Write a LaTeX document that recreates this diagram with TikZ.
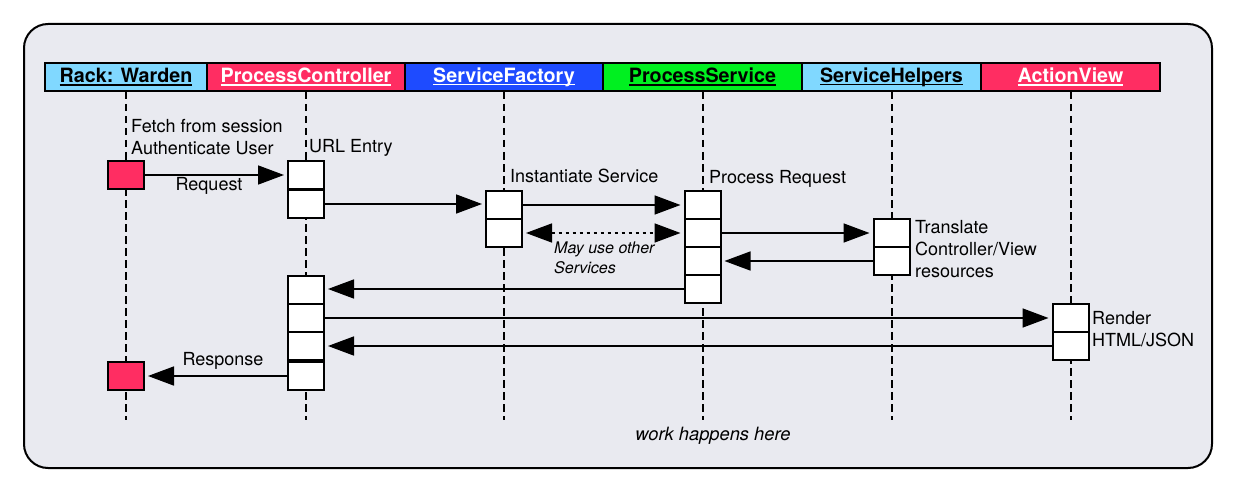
\documentclass[tikz,border=0pt]{standalone}
\usepackage{fontspec}
\setmainfont{TeX Gyre Heros}
\usetikzlibrary{arrows.meta}
\definecolor{bgc}{HTML}{E9EAF0}
\definecolor{lblue}{HTML}{80D8FF}
\definecolor{rred}{HTML}{FF2D62}
\definecolor{bblue}{HTML}{1E4BFF}
\definecolor{ggreen}{HTML}{00F020}
\newcommand\hdul[1]{\setbox0\hbox{#1}\rlap{\rule[-0.16em]{\wd0}{0.075em}}\box0}
\begin{document}
\begin{tikzpicture}[x=1pt,y=-1pt,
  hdr/.style={draw=black,line width=2pt,minimum height=28pt,inner sep=0pt,
    font=\fontsize{19.7}{22}\selectfont\bfseries},
  act/.style={draw=black,fill=white,line width=2pt,minimum width=36pt,minimum height=28pt,inner sep=0pt},
  life/.style={line width=2pt,dash pattern=on 7.5pt off 4.5pt},
  msg/.style={line width=1.6pt,-{Triangle[length=26pt,width=19pt]},shorten >=3pt},
  lbl/.style={font=\fontsize{18}{22}\selectfont,inner sep=0pt,align=left},
  ilbl/.style={font=\fontsize{16}{20}\selectfont\itshape,inner sep=0pt,align=left}]
\useasboundingbox (0,0) rectangle (1234,492);
\draw[fill=bgc,line width=2pt,rounded corners=24pt] (24,24) rectangle (1212,468);
% headers
\node[hdr,fill=lblue,minimum width=162pt] (hRack) at (126,77) {\hdul{Rack: Warden}};
\node[hdr,fill=rred,minimum width=198pt,text=white] (hPC) at (306,77) {\hdul{ProcessController}};
\node[hdr,fill=bblue,minimum width=198pt,text=white] (hSF) at (504,77) {\hdul{ServiceFactory}};
\node[hdr,fill=ggreen,minimum width=199pt] (hPS) at (702.5,77) {\hdul{ProcessService}};
\node[hdr,fill=lblue,minimum width=179pt] (hSH) at (891.5,77) {\hdul{ServiceHelpers}};
\node[hdr,fill=rred,minimum width=179pt,text=white] (hAV) at (1070.5,77) {\hdul{ActionView}};
% lifeline ends
\coordinate (eRack) at (126,420);
\coordinate (ePC) at (306,420);
\coordinate (eSF) at (504,420);
\coordinate (ePS) at (702.5,420);
\coordinate (eSH) at (891.5,420);
\coordinate (eAV) at (1070.5,420);
\draw[life] (hRack.south) -- (eRack);
\draw[life] (hPC.south) -- (ePC);
\draw[life] (hSF.south) -- (eSF);
\draw[life] (hPS.south) -- (ePS);
\draw[life] (hSH.south) -- (eSH);
\draw[life] (hAV.south) -- (eAV);
% activation boxes
\node[act,fill=rred] (r1) at (126,175) {};
\node[act,fill=rred] (r2) at (126,376) {};
\node[act] (pc1) at (306,175) {};
\node[act] (pc2) at (306,204) {};
\node[act] (pc3) at (306,290) {};
\node[act] (pc4) at (306,318) {};
\node[act] (pc5) at (306,346) {};
\node[act] (pc6) at (306,376) {};
\node[act] (sf1) at (504,205) {};
\node[act] (sf2) at (504,233) {};
\node[act] (ps1) at (702.5,205) {};
\node[act] (ps2) at (702.5,233) {};
\node[act] (ps3) at (702.5,261) {};
\node[act] (ps4) at (702.5,289) {};
\node[act] (sh1) at (891.5,233) {};
\node[act] (sh2) at (891.5,261) {};
\node[act] (av1) at (1070.5,318) {};
\node[act] (av2) at (1070.5,346) {};
% messages
\draw[msg] (r1.east) -- (pc1.west);
\draw[msg] (pc2.east) -- (pc2.east -| sf1.west);
\draw[msg] (sf1.east) -- (ps1.west);
\draw[line width=1.6pt,dash pattern=on 3pt off 4pt,{Triangle[length=26pt,width=19pt]}-{Triangle[length=26pt,width=19pt]},shorten >=3pt,shorten <=3pt] (sf2.east) -- (ps2.west);
\draw[msg] (ps2.east) -- (sh1.west);
\draw[msg] (sh2.west) -- (ps3.east);
\draw[msg] (ps4.west) -- (ps4.west -| pc3.east);
\draw[msg] (pc4.east) -- (av1.west);
\draw[msg] (av2.west) -- (pc5.east);
\draw[msg] (pc6.west) -- (r2.east);
% labels
\node[lbl,anchor=west] (tFetch) at (131,137.5) {Fetch from session\\Authenticate User};
\node[lbl,anchor=west] (tUrl) at (309,148) {URL Entry};
\node[lbl] (tReq) at (209,186) {Request};
\node[lbl,anchor=west] (tInst) at (510,176) {Instantiate Service};
\node[lbl,anchor=west] (tProc) at (709,179) {Process Request};
\node[ilbl,anchor=west] (tMay) at (554,258) {May use other\\Services};
\node[lbl,anchor=west] (tTrans) at (915,249) {Translate\\Controller/View\\resources};
\node[lbl,anchor=west] (tRend) at (1092,329) {Render\\HTML/JSON};
\node[lbl] (tResp) at (223,361) {Response};
\node[ilbl,font=\fontsize{18.3}{22}\selectfont\itshape] (tWork) at (713,436) {work happens here};
\end{tikzpicture}
\end{document}
